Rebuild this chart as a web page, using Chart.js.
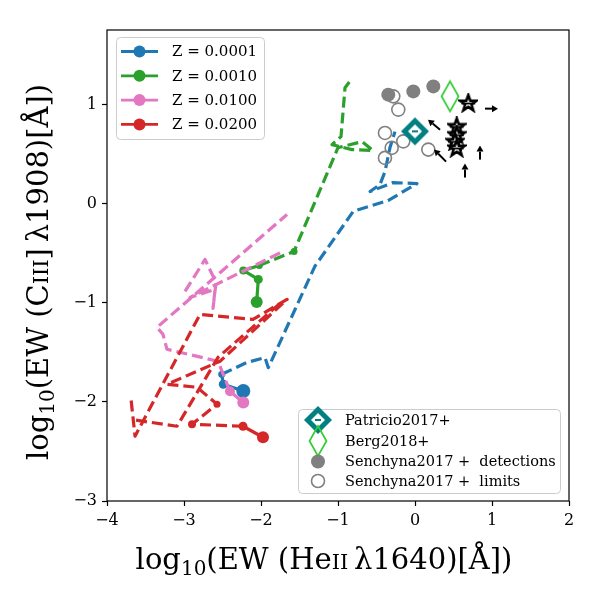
<!DOCTYPE html>
<html><head><meta charset="utf-8">
<script src="https://cdn.jsdelivr.net/npm/chart.js@4.4.1/dist/chart.umd.min.js"></script>
<style>html,body{margin:0;padding:0;background:#fff}canvas{display:block}</style>
</head><body>
<canvas id="c" width="600" height="600" style="width:600px;height:600px"></canvas>
<script>
const FONT = '"DejaVu Serif", "Liberation Serif", serif';

// ---- model tracks: log10 EW(HeII 1640) vs log10 EW(CIII] 1908) ----
const blueX  = [-2.230,-2.490,-2.510,-2.186,-1.948,-1.905,-1.299,-0.801,-0.351,0.026,-0.286,-0.584,-0.455,-0.390,-0.325,-0.260];
const blueY  = [-1.890,-1.823,-1.722,-1.604,-1.554,-1.655,-0.631,-0.078,0.030,0.201,0.211,0.121,0.191,0.322,0.564,0.725];
const greenX = [-2.056,-2.035,-2.230,-2.022,-1.571,-1.000,-0.688,-0.545,-0.818,-1.078,-0.961,-0.909,-0.818];
const greenY = [-0.994,-0.765,-0.675,-0.624,-0.483,0.564,0.624,0.534,0.544,0.594,0.675,1.168,1.259];
const pinkX  = [-2.230,-2.403,-2.506,-2.558,-3.221,-3.273,-3.351,-1.662,null,-2.987,-2.727,-2.584,-2.623,-2.597,-2.922,-1.714];
const pinkY  = [-2.007,-1.893,-1.692,-1.591,-1.470,-1.319,-1.249,-0.111,null,-0.886,-0.564,-0.796,-1.057,-0.866,-0.947,-0.483];
const redX   = [-1.974,-2.234,-2.896,-2.571,-2.831,-3.221,-2.532,-1.662,-2.104,-2.792,-3.636,-3.688,null,-3.623,-3.091,-2.558,-1.753];
const redY   = [-2.357,-2.246,-2.226,-2.024,-1.853,-1.823,-1.591,-0.967,-1.168,-1.118,-2.346,-1.974,null,-2.185,-2.246,-1.551,-1.007];
const trackLabels = ['Z = 0.0001','Z = 0.0010','Z = 0.0100','Z = 0.0200'];

// ---- observations ----
const patX = [0.0],   patY = [0.728];
const bergX = [0.455], bergY = [1.081];
const senDetX = [-0.347,-0.022,0.238];
const senDetY = [1.098,1.131,1.181];
const senLimX = [-0.282,-0.217,-0.390,-0.152,-0.303,-0.390,0.173];
const senLimY = [1.081,0.947,0.712,0.627,0.561,0.460,0.544];
const starX = [0.692,0.542,0.542,0.519,0.542];
const starY = [1.014,0.778,0.695,0.627,0.561];
// limit arrows (from -> to)
const arrowX0 = [0.909,0.844,0.649,0.403,0.325];
const arrowY0 = [0.957,0.443,0.262,0.423,0.745];
const arrowX1 = [1.078,0.844,0.649,0.247,0.169];
const arrowY1 = [0.957,0.584,0.403,0.544,0.846];

const xTicks = [-4,-3,-2,-1,0,1,2];
const yTicks = [-3,-2,-1,0,1];

const pts = (xs, ys) => xs.map((x,i)=>({x:x, y:ys[i]}));
const fmt = v => v < 0 ? '\u2212' + Math.abs(v) : String(v);

function mk(w,h,fn){ const c=document.createElement('canvas'); c.width=w; c.height=h; fn(c.getContext('2d'),w,h); return c; }
const TEAL = '#008080', LIME = '#32cd32';
const patImg = mk(32,32,(g)=>{
  g.fillStyle=TEAL; g.beginPath(); g.moveTo(16,2); g.lineTo(30,16); g.lineTo(16,30); g.lineTo(2,16); g.closePath(); g.fill();
  g.fillStyle='#fff'; g.beginPath(); g.moveTo(16,9); g.lineTo(23,16); g.lineTo(16,23); g.lineTo(9,16); g.closePath(); g.fill();
  g.strokeStyle=TEAL; g.lineWidth=2; g.beginPath(); g.moveTo(13,16); g.lineTo(19,16); g.stroke();
});
const bergImg = mk(22,34,(g)=>{
  g.strokeStyle=LIME; g.lineWidth=1.7; g.beginPath(); g.moveTo(11,2); g.lineTo(19.5,17); g.lineTo(11,32); g.lineTo(2.5,17); g.closePath(); g.stroke();
});
const starImg = mk(20,20,(g)=>{
  g.beginPath();
  for(let k=0;k<10;k++){ const r = k%2?3.4:8.5, a=-Math.PI/2 + k*Math.PI/5; const px=10+r*Math.cos(a), py=10.5+r*Math.sin(a); k?g.lineTo(px,py):g.moveTo(px,py); }
  g.closePath(); g.fillStyle='#fff'; g.fill(); g.strokeStyle='#000'; g.lineWidth=2.6; g.stroke();
  g.beginPath(); g.moveTo(3,10.5); g.lineTo(17,10.5); g.lineWidth=1.8; g.stroke();
});

function track(label, xs, ys, color, sizes, nSolid, ord){
  return {
    label, showLine:true, order:ord, data:pts(xs,ys), isTrack:true,
    borderColor:color, backgroundColor:color, borderWidth:3.2,
    borderCapStyle:'butt', borderJoinStyle:'round', spanGaps:false,
    segment:{ borderDash: c => c.p0DataIndex < nSolid ? [] : [11,5] },
    pointRadius: c => sizes[c.dataIndex] || 0,
    pointBackgroundColor:color, pointBorderWidth:0, pointHoverRadius:0
  };
}

const datasets = [
  {label:'Patricio2017+', data:pts(patX,patY), pointStyle:patImg, order:0, showLine:false},
  {label:'Berg2018+', data:pts(bergX,bergY), pointStyle:bergImg, order:0, showLine:false},
  {label:'stars', data:pts(starX,starY), pointStyle:starImg, order:0, showLine:false},
  {label:'Senchyna2017 +  limits', data:pts(senLimX,senLimY), pointStyle:'circle', pointRadius:6.5, backgroundColor:'rgba(0,0,0,0)', borderColor:'#808080', borderWidth:1.6, order:0.5, showLine:false},
  {label:'Senchyna2017 +  detections', data:pts(senDetX,senDetY), pointStyle:'circle', pointRadius:7, backgroundColor:'#808080', borderColor:'#808080', borderWidth:0, order:0.6, showLine:false},
  track(trackLabels[3], redX, redY, '#d62728', [6,4.5,4,3.5,0,0,0,1.5], 1, 1),
  track(trackLabels[2], pinkX, pinkY, '#e377c2', [6,5], 1, 2),
  track(trackLabels[1], greenX, greenY, '#2ca02c', [6,4.5,4,3.5,3.5], 3, 3),
  track(trackLabels[0], blueX, blueY, '#1f77b4', [7,4.5,3.5], 2, 4)
];

function drawRich(ctx, parts, cx, cy, angle){
  ctx.save(); ctx.translate(cx,cy); ctx.rotate(angle);
  let total=0;
  parts.forEach(p=>{ ctx.font=p.s+'px '+FONT; p.w=ctx.measureText(p.t).width; total+=p.w; });
  let xx=-total/2; ctx.textBaseline='alphabetic'; ctx.textAlign='left'; ctx.fillStyle='#000';
  parts.forEach(p=>{ ctx.font=p.s+'px '+FONT; ctx.fillText(p.t, xx, p.dy||0); xx+=p.w; });
  ctx.restore();
}
function rrect(ctx,x,y,w,h,r){ ctx.beginPath(); ctx.moveTo(x+r,y); ctx.lineTo(x+w-r,y); ctx.quadraticCurveTo(x+w,y,x+w,y+r); ctx.lineTo(x+w,y+h-r); ctx.quadraticCurveTo(x+w,y+h,x+w-r,y+h); ctx.lineTo(x+r,y+h); ctx.quadraticCurveTo(x,y+h,x,y+h-r); ctx.lineTo(x,y+r); ctx.quadraticCurveTo(x,y,x+r,y); ctx.closePath(); }

const extras = {
  id:'extras',
  afterDatasetsDraw(chart){
    const {ctx, scales:{x,y}} = chart;
    ctx.save(); ctx.strokeStyle='#000'; ctx.fillStyle='#000'; ctx.lineWidth=2;
    for(let i=0;i<arrowX0.length;i++){
      const x0=x.getPixelForValue(arrowX0[i]), y0=y.getPixelForValue(arrowY0[i]);
      const x1=x.getPixelForValue(arrowX1[i]), y1=y.getPixelForValue(arrowY1[i]);
      const a=Math.atan2(y1-y0,x1-x0), L=6, W=3.5;
      const bx=x1-L*Math.cos(a), by=y1-L*Math.sin(a);
      ctx.beginPath(); ctx.moveTo(x0,y0); ctx.lineTo(bx,by); ctx.stroke();
      ctx.beginPath(); ctx.moveTo(x1,y1); ctx.lineTo(bx+W*Math.sin(a), by-W*Math.cos(a)); ctx.lineTo(bx-W*Math.sin(a), by+W*Math.cos(a)); ctx.closePath(); ctx.fill();
    }
    ctx.restore();
  },
  afterDraw(chart){
    const {ctx, chartArea:a} = chart;
    ctx.save();
    ctx.strokeStyle='#000'; ctx.lineWidth=1.2;
    ctx.strokeRect(a.left, a.top, a.right-a.left, a.bottom-a.top);
    // axis titles
    drawRich(ctx,[{t:'log',s:29},{t:'10',s:20,dy:6},{t:'(EW (He',s:29},{t:'II',s:21},{t:'\u2009\u03bb1640)[\u00c5])',s:29}], 324, 569, 0);
    drawRich(ctx,[{t:'log',s:29},{t:'10',s:20,dy:6},{t:'(EW (C',s:29},{t:'III',s:21},{t:']\u2009\u03bb1908)[\u00c5])',s:29}], 48, 272, -Math.PI/2);
    // legend 1 (model tracks)
    rrect(ctx,116.5,37.5,148,102,4); ctx.fillStyle='rgba(255,255,255,0.8)'; ctx.fill(); ctx.strokeStyle='#cccccc'; ctx.lineWidth=1; ctx.stroke();
    const tr = chart.data.datasets.filter(d=>d.isTrack).sort((p,q)=>trackLabels.indexOf(p.label)-trackLabels.indexOf(q.label));
    ctx.font='15px '+FONT; ctx.textBaseline='middle'; ctx.textAlign='left';
    tr.forEach((d,i)=>{
      const yy=51.5+i*24.3;
      ctx.strokeStyle=d.borderColor; ctx.lineWidth=2.8; ctx.beginPath(); ctx.moveTo(121,yy); ctx.lineTo(158,yy); ctx.stroke();
      ctx.fillStyle=d.borderColor; ctx.beginPath(); ctx.arc(139.5,yy,6,0,2*Math.PI); ctx.fill();
      ctx.fillStyle='#000'; ctx.fillText(d.label,172,yy+1);
    });
    // legend 2 (observations)
    rrect(ctx,298.5,409.5,262,84,4); ctx.fillStyle='rgba(255,255,255,0.8)'; ctx.fill(); ctx.strokeStyle='#cccccc'; ctx.lineWidth=1; ctx.stroke();
    const ds = chart.data.datasets;
    const rows = [['Patricio2017+',420],['Berg2018+',441],['Senchyna2017 +  detections',461.5],['Senchyna2017 +  limits',481]];
    ctx.font='14.5px '+FONT;
    rows.forEach(([lab,yy])=>{
      const d = ds.find(e=>e.label===lab);
      if(d.pointStyle instanceof HTMLCanvasElement){ ctx.drawImage(d.pointStyle, 318-d.pointStyle.width/2, yy-d.pointStyle.height/2); }
      else { ctx.beginPath(); ctx.arc(318,yy,d.pointRadius,0,2*Math.PI); ctx.fillStyle=d.backgroundColor; ctx.fill(); if(d.borderWidth){ctx.strokeStyle=d.borderColor; ctx.lineWidth=d.borderWidth; ctx.stroke();} }
      ctx.fillStyle='#000'; ctx.fillText(lab,345,yy+1);
    });
    ctx.restore();
  }
};

const axisCommon = (ticksArr, fitFn) => ({
  type:'linear',
  afterBuildTicks: s => { s.ticks = ticksArr.map(v=>({value:v})); },
  ticks:{ callback: fmt, font:{family:FONT, size:16}, color:'#000', padding:5, maxRotation:0, autoSkip:false },
  grid:{ display:true, drawOnChartArea:false, drawTicks:true, tickLength:5, tickWidth:1.2, tickColor:'#000' },
  border:{ display:false },
  afterFit: fitFn
});

new Chart(document.getElementById('c'), {
  type:'scatter',
  data:{ datasets },
  options:{
    responsive:false, animation:false, devicePixelRatio:1,
    layout:{ padding:{ left:0, right:31, top:30, bottom:0 } },
    plugins:{ legend:{display:false}, tooltip:{enabled:false} },
    scales:{
      x: Object.assign(axisCommon(xTicks, s=>{ s.height=99; }), {min:-4, max:2}),
      y: Object.assign(axisCommon(yTicks, s=>{ s.width=107; }), {min:-3, max:1.75})
    }
  },
  plugins:[extras]
});
</script>
</body></html>
